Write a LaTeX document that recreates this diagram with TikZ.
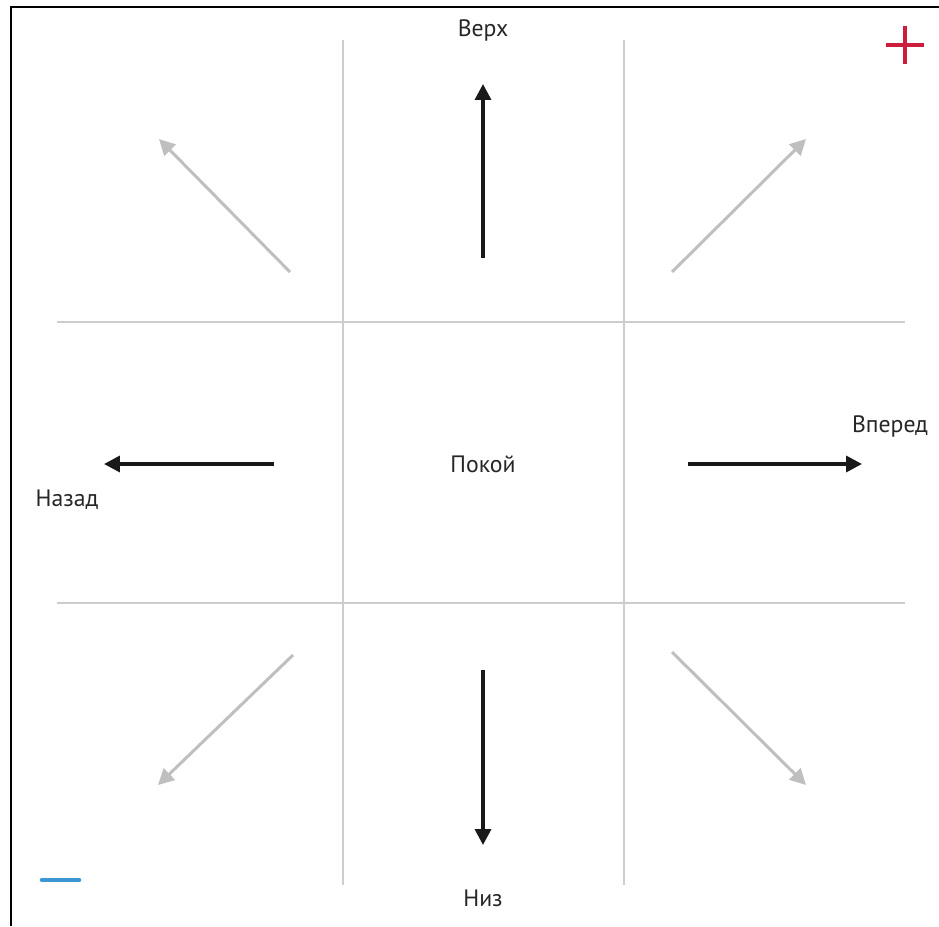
\documentclass[tikz,border=0pt]{standalone}
\usepackage{fontspec}
\setmainfont{PT Sans}
\usetikzlibrary{arrows.meta}
\definecolor{grisgrille}{RGB}{205,205,205}
\definecolor{plusrouge}{RGB}{204,30,60}
\definecolor{moinsbleu}{RGB}{60,150,210}
\tikzset{
  grille/.style={draw=grisgrille, line width=0.6pt},
  fleche/.style={black!90, line width=2pt, -{Triangle[length=9pt,width=9pt]}},
  diag/.style={gray!50, line width=1.7pt, -{Triangle[length=9pt,width=9pt]}},
  etiq/.style={font=\fontsize{13.5}{16}\selectfont, text=black!85}
}
\begin{document}
\begin{tikzpicture}[x=0.02cm,y=-0.02cm]

% Cadre de la page
\useasboundingbox (0,0) rectangle (939,926);
\fill[white] (0,0) rectangle (939,926);
\draw[line width=1.5pt] (11,926) -- (11,7) -- (939,7);

% Grille
\draw[grille] (343,40) -- (343,885);
\draw[grille] (624,40) -- (624,885);
\draw[grille] (57,322) -- (905,322);
\draw[grille] (57,603) -- (905,603);

% Points des flèches
\coordinate (h0) at (483,258);
\coordinate (h1) at (483,84);
\coordinate (b0) at (483,670);
\coordinate (b1) at (483,845);
\coordinate (d0) at (688,464);
\coordinate (d1) at (862,464);
\coordinate (g0) at (274,464);
\coordinate (g1) at (104,464);
\coordinate (no0) at (290,272);
\coordinate (no1) at (159,139);
\coordinate (ne0) at (672,272);
\coordinate (ne1) at (806,139);
\coordinate (so0) at (293,655);
\coordinate (so1) at (158,785);
\coordinate (se0) at (672,652);
\coordinate (se1) at (806,785);

% Flèches principales
\draw[fleche] (h0) -- (h1);
\draw[fleche] (b0) -- (b1);
\draw[fleche] (d0) -- (d1);
\draw[fleche] (g0) -- (g1);

% Flèches diagonales
\draw[diag] (no0) -- (no1);
\draw[diag] (ne0) -- (ne1);
\draw[diag] (so0) -- (so1);
\draw[diag] (se0) -- (se1);

% Noms des directions
\node[etiq] (haut) at (483,30) {Верх};
\node[etiq] (bas) at (483,898) {Низ};
\node[etiq] (avant) at (890,426) {Вперед};
\node[etiq] (arriere) at (67,500) {Назад};
\node[etiq] (repos) at (483,464) {Покой};

% Signes
\draw[plusrouge, line width=2.2pt] (886,45) -- (924,45);
\draw[plusrouge, line width=2.2pt] (905,26) -- (905,64);
\draw[moinsbleu, line width=2.6pt, line cap=round] (42,880) -- (79,880);

\end{tikzpicture}
\end{document}
